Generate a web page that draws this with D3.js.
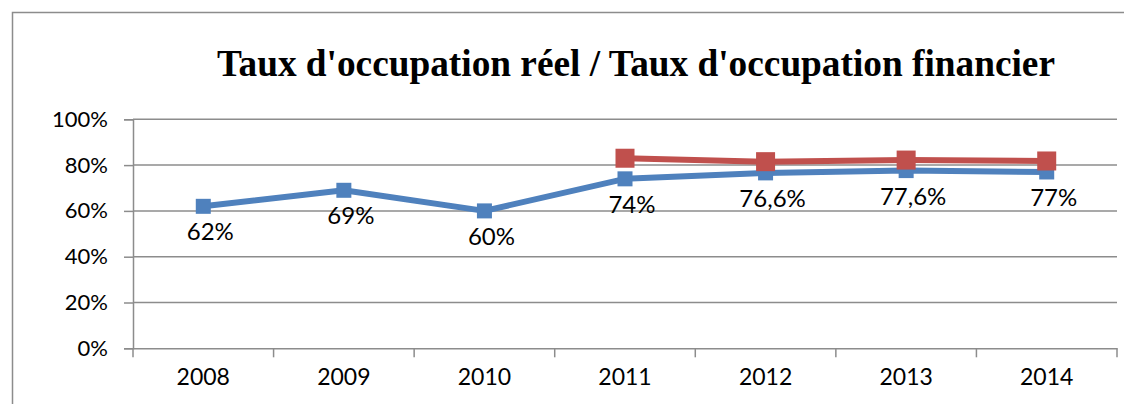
<!DOCTYPE html>
<html>
<head>
<meta charset="utf-8">
<script src="https://cdn.jsdelivr.net/npm/d3@7"></script>
<style>
  html, body { margin: 0; padding: 0; background: #fff; }
  svg { display: block; }
</style>
</head>
<body>
<svg id="chart" width="1124" height="404"></svg>
<script>
const categories = ["2008", "2009", "2010", "2011", "2012", "2013", "2014"];
const reelValues = [0.62, 0.69, 0.60, 0.74, 0.766, 0.776, 0.77];
const reelLabels = ["62%", "69%", "60%", "74%", "76,6%", "77,6%", "77%"];
const financierYears = ["2011", "2012", "2013", "2014"];
const financierValues = [0.83, 0.815, 0.822, 0.818];
const yTicks = [0, 0.2, 0.4, 0.6, 0.8, 1.0];
const title = "Taux d'occupation réel / Taux d'occupation financier";

(function () {
const svg = d3.select("#chart");
const gray = "#8c8c8c";
const blue = "#4F81BD";
const red = "#C0504D";
const font = "Lato, 'Open Sans', sans-serif";

// outer chart border (left and top visible)
svg.append("path")
  .attr("d", "M12.5,404 L12.5,12.5 L1124,12.5")
  .attr("fill", "none").attr("stroke", gray).attr("stroke-width", 1.5);

const pLeft = 133, pRight = 1117, pTop = 119.3, pBottom = 348.3;

const x = d3.scaleBand().domain(categories).range([pLeft, pRight]).padding(0);
const y = d3.scaleLinear().domain([0, 1]).range([pBottom, pTop]);
const cx = d => x(d) + x.bandwidth() / 2;

// title
svg.append("text")
  .attr("x", 636).attr("y", 76)
  .attr("text-anchor", "middle")
  .attr("font-family", "'Liberation Serif', 'Times New Roman', serif")
  .attr("font-weight", "bold")
  .attr("font-size", 37.3)
  .attr("fill", "#000")
  .text(title);

// gridlines
svg.append("g").selectAll("line").data(yTicks.filter(t => t > 0)).join("line")
  .attr("x1", pLeft).attr("x2", pRight)
  .attr("y1", d => y(d)).attr("y2", d => y(d))
  .attr("stroke", gray).attr("stroke-width", 1.5);

// y axis
const yAxis = svg.append("g")
  .attr("transform", `translate(${pLeft},0)`)
  .call(d3.axisLeft(y).tickValues(yTicks).tickFormat(d3.format(".0%")).tickSize(9).tickPadding(16));
yAxis.select(".domain").attr("stroke", gray).attr("stroke-width", 1.5);
yAxis.selectAll(".tick line").attr("stroke", gray).attr("stroke-width", 1.5);
yAxis.selectAll(".tick text")
  .attr("font-family", font).attr("font-size", 22).attr("fill", "#000");

// x axis
const xAxis = svg.append("g")
  .attr("transform", `translate(0,${pBottom})`)
  .call(d3.axisBottom(x).tickSize(0).tickPadding(20));
xAxis.select(".domain").attr("stroke", gray).attr("stroke-width", 1.5);
xAxis.selectAll(".tick text")
  .attr("font-family", font).attr("font-size", 23).attr("fill", "#000");
// tick marks at category boundaries
const edges = categories.map(c => x(c)).concat([x(categories[categories.length - 1]) + x.bandwidth()]);
svg.append("g").selectAll("line").data(edges).join("line")
  .attr("x1", d => d).attr("x2", d => d)
  .attr("y1", pBottom).attr("y2", pBottom + 9)
  .attr("stroke", gray).attr("stroke-width", 1.5);

// blue series
const reelData = categories.map((c, i) => ({ c, v: reelValues[i], l: reelLabels[i] }));
const line = d3.line().x(d => cx(d.c)).y(d => y(d.v));
svg.append("path").datum(reelData)
  .attr("d", line).attr("fill", "none")
  .attr("stroke", blue).attr("stroke-width", 6).attr("stroke-linejoin", "round");
svg.append("g").selectAll("rect").data(reelData).join("rect")
  .attr("x", d => cx(d.c) - 7.5).attr("y", d => y(d.v) - 7.5)
  .attr("width", 15).attr("height", 15).attr("fill", blue);

// red series
const finData = financierYears.map((c, i) => ({ c, v: financierValues[i] }));
svg.append("path").datum(finData)
  .attr("d", line).attr("fill", "none")
  .attr("stroke", red).attr("stroke-width", 6).attr("stroke-linejoin", "round");
svg.append("g").selectAll("rect").data(finData).join("rect")
  .attr("x", d => cx(d.c) - 9.5).attr("y", d => y(d.v) - 9.5)
  .attr("width", 19).attr("height", 19).attr("fill", red);

// data labels (blue)
svg.append("g").selectAll("text").data(reelData).join("text")
  .attr("x", d => cx(d.c) + 7).attr("y", d => y(d.v) + 34)
  .attr("text-anchor", "middle")
  .attr("font-family", font).attr("font-size", 24).attr("fill", "#000")
  .text(d => d.l);
})();
</script>
</body>
</html>
